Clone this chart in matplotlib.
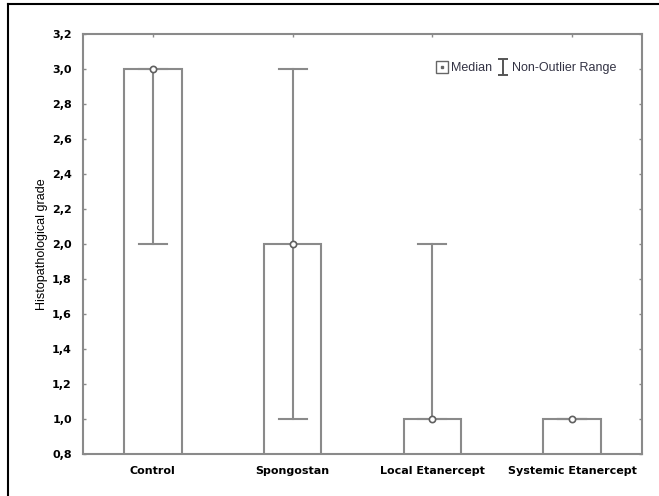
import matplotlib
matplotlib.use("Agg")
from matplotlib import pyplot as plt
from matplotlib.lines import Line2D
from matplotlib.path import Path

groups = ["Control", "Spongostan", "Local Etanercept", "Systemic Etanercept"]
box_top = [3.0, 2.0, 1.0, 1.0]
medians = [3.0, 2.0, 1.0, 1.0]
range_low = [2.0, 1.0, 1.0, 1.0]
range_high = [3.0, 3.0, 2.0, 1.0]
yticks = [0.8, 1.0, 1.2, 1.4, 1.6, 1.8, 2.0, 2.2, 2.4, 2.6, 2.8, 3.0, 3.2]

grey = "#8a8a8a"
plt.rcParams["font.family"] = ["Liberation Sans", "DejaVu Sans"]

fig = plt.figure(figsize=(6.59, 4.96), dpi=100)
ax = fig.add_axes([83 / 659, 1 - 454 / 496, (642 - 83) / 659, (454 - 34) / 496])

x = list(range(len(groups)))
# boxes drawn from below the axis up to the top value
ax.bar(x, box_top, bottom=0.0, width=0.41, facecolor="white",
       edgecolor=grey, linewidth=1.5, zorder=2)
# whiskers (non-outlier range)
for xi, lo, hi in zip(x, range_low, range_high):
    ax.plot([xi, xi], [lo, hi], color=grey, lw=1.5, zorder=3)
    ax.plot([xi - 0.1, xi + 0.1], [lo, lo], color=grey, lw=1.5, zorder=3)
    ax.plot([xi - 0.1, xi + 0.1], [hi, hi], color=grey, lw=1.5, zorder=3)
ax.plot(x, medians, "o", ms=4.5, mfc="white", mec="#606060", mew=1.2, ls="none", zorder=4)

ax.set_xlim(-0.5, 3.5)
ax.set_ylim(0.8, 3.2)
ax.set_yticks(yticks)
ax.set_yticklabels([f"{v:.1f}".replace(".", ",") for v in yticks],
                   fontsize=8, fontweight="bold", family="DejaVu Sans")
ax.set_xticks(x)
ax.set_xticklabels(groups, fontsize=8, fontweight="bold", family="DejaVu Sans")
ax.tick_params(direction="in", length=2, width=1, color=grey, top=True, right=True,
               pad=8)
ax.tick_params(axis="x", pad=9)
for s in ax.spines.values():
    s.set_color(grey)
    s.set_linewidth(1.5)
ax.set_ylabel("Histopathological grade", fontsize=9, labelpad=3)

# legend
ibeam = Path([(-0.6, 1), (0.6, 1), (0, 1), (0, -1), (-0.6, -1), (0.6, -1)],
             [Path.MOVETO, Path.LINETO, Path.MOVETO, Path.LINETO, Path.MOVETO, Path.LINETO])
h_sq = Line2D([], [], marker="s", ms=8, mfc="white", mec="#666666", ls="none")
h_dot = Line2D([], [], marker="s", ms=2, mfc="#666666", mec="#666666", ls="none")
h2 = Line2D([], [], marker=ibeam, ms=11, mew=1.4, color="#555555", ls="none")
ax.legend([(h_sq, h_dot), h2], ["Median", "Non-Outlier Range"], loc="upper right",
          bbox_to_anchor=(0.975, 0.96), ncol=2, frameon=False, fontsize=9,
          handlelength=0.9, handletextpad=0.3, columnspacing=0.4, labelcolor="#333344")

# outer frame (left and top visible)
fig.add_artist(Line2D([8 / 659, 8 / 659], [0, 1 - 4 / 496], color="black", lw=1.5,
                      transform=fig.transFigure))
fig.add_artist(Line2D([8 / 659, 1], [1 - 4 / 496, 1 - 4 / 496], color="black", lw=1.5,
                      transform=fig.transFigure))

fig.savefig("out.png", dpi=100)
